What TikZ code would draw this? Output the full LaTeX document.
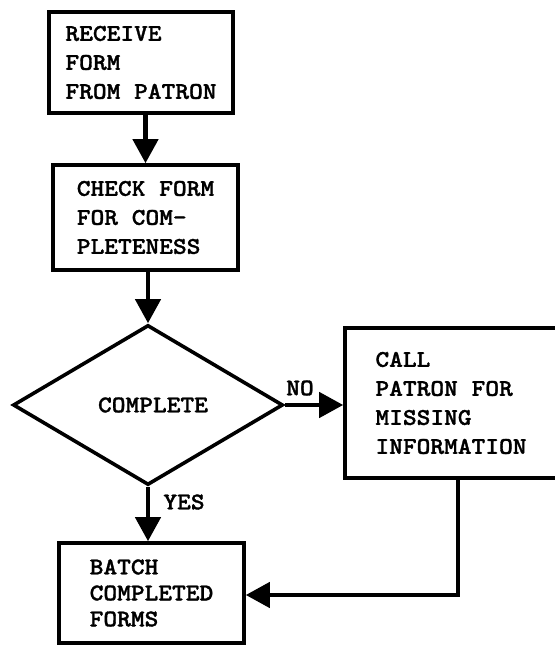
\documentclass[tikz,border=0pt]{standalone}
\usepackage{fontspec}
\usetikzlibrary{shapes.geometric,arrows.meta}
% heavy, slightly widened typewriter face for all labels
\newfontfamily\typewr{lmmonolt10-bold.otf}[FakeStretch=1.09,FakeBold=1.3]
\newcommand{\typefont}[1]{\typewr\fontsize{24}{#1}\selectfont}
\tikzset{
  procbox/.style={draw, line width=3.6pt, rectangle, align=left, inner sep=0pt,
    font=\typefont{29}},
  decision/.style={draw, line width=3.6pt, diamond, inner sep=0pt,
    font=\typefont{29}},
  flow/.style={line width=4.4pt, -{Triangle[width=25pt,length=24pt]}},
  lbl/.style={font=\typefont{29}, inner sep=0pt}
}
\begin{document}
\begin{tikzpicture}[x=1pt,y=1pt]
\useasboundingbox (0,0) rectangle (554,647);

% process steps
\node[procbox, minimum width=184pt, minimum height=101pt] (recv) at (141,584.5)
  {RECEIVE\\FORM\\FROM PATRON};
\node[procbox, minimum width=185pt, minimum height=105pt] (check) at (145.5,429.5)
  {CHECK FORM\\FOR COM-\\PLETENESS};
\node[decision, minimum width=270pt, minimum height=160pt] (comp) at (148,242)
  {\hspace*{10pt}COMPLETE};
\node[procbox, minimum width=212pt, minimum height=150pt] (call) at (451,244)
  {CALL\\PATRON FOR\\MISSING\\INFORMATION};
\node[procbox, minimum width=185pt, minimum height=100pt, font=\typefont{26}] (batch) at (151.5,54)
  {BATCH\\COMPLETED\\FORMS};

% branch labels
\node[lbl] (no) at (300,259) {NO};
\node[lbl] (yes) at (184,145) {YES};

% return path from the call step
\coordinate (ret) at (458,52);

% connectors
\draw[flow] (recv.south -| check.north) -- (check.north);
\draw[flow] (check.south -| comp.north) -- (comp.north);
\draw[flow] (comp.east) -- (comp.east -| call.west);
\draw[flow] (comp.south) -- (batch.north -| comp.south);
\draw[flow] (call.south -| ret) |- (batch.east |- ret);
\end{tikzpicture}
\end{document}
